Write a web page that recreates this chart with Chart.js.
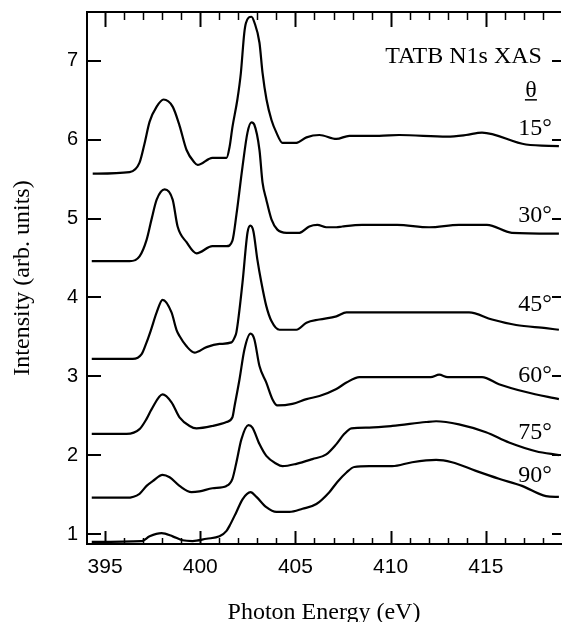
<!DOCTYPE html>
<html><head><meta charset="utf-8">
<script src="https://cdn.jsdelivr.net/npm/chart.js@4.4.1/dist/chart.umd.min.js"></script>
<style>html,body{margin:0;padding:0;background:#fff;}canvas{display:block;}</style>
</head><body>
<canvas id="c" width="563" height="622"></canvas>
<script>
// ---- data ----
const xTicks = [395, 400, 405, 410, 415];
const yTicks = [1, 2, 3, 4, 5, 6, 7];
const angleLabels = ['15°', '30°', '45°', '60°', '75°', '90°'];

const e15 = [394.35,396.29,396.81,397.08,397.34,397.71,398.07,398.55,398.91,399.28,399.70,399.86,400.64,401.38,401.54,401.69,401.95,402.13,402.31,402.40,402.69,402.84,403.11,403.27,403.48,403.74,404.00,404.32,405.05,405.58,406.26,407.15,407.83,409.40,410.45,412.97,413.96,414.80,417.11,418.84];
const i15 = [5.57,5.59,5.71,5.96,6.23,6.42,6.51,6.42,6.18,5.87,5.71,5.68,5.77,5.77,5.91,6.16,6.51,6.84,7.35,7.48,7.56,7.49,7.23,6.85,6.51,6.25,6.09,5.96,5.96,6.03,6.06,6.01,6.05,6.05,6.06,6.04,6.06,6.09,5.94,5.92];

const e30 = [394.30,396.29,396.81,397.18,397.44,397.71,398.13,398.55,398.81,399.28,399.80,400.64,401.38,401.69,401.90,402.22,402.48,402.69,402.84,403.11,403.27,403.47,403.74,404.05,404.53,405.21,405.73,406.15,406.62,407.15,407.46,408.51,410.34,412.02,413.59,415.06,416.37,418.84];
const i30 = [4.46,4.46,4.52,4.73,4.99,5.24,5.37,5.24,4.90,4.70,4.56,4.65,4.65,4.72,5.05,5.66,6.09,6.22,6.19,5.87,5.46,5.24,4.99,4.86,4.82,4.82,4.90,4.92,4.89,4.89,4.90,4.92,4.92,4.89,4.92,4.92,4.82,4.81];

const e45 = [394.30,396.45,396.92,397.18,397.40,397.71,398.02,398.49,398.75,398.91,399.28,399.70,400.33,401.01,401.64,401.80,401.90,402.22,402.48,402.63,402.79,403.00,403.21,403.47,403.74,404.16,405.05,405.58,406.26,407.15,407.68,408.20,410.45,414.12,415.33,416.59,418.16,418.84];
const i45 = [3.22,3.22,3.28,3.43,3.58,3.81,3.97,3.81,3.59,3.51,3.38,3.30,3.37,3.41,3.43,3.49,3.56,4.19,4.82,4.91,4.84,4.48,4.19,3.89,3.70,3.59,3.59,3.68,3.72,3.76,3.81,3.81,3.81,3.81,3.72,3.65,3.61,3.59];

const e60 = [394.30,396.13,396.81,397.18,397.44,398.02,398.49,398.91,399.44,399.80,400.64,401.38,401.69,401.80,402.06,402.32,402.64,402.84,403.11,403.47,403.79,404.05,404.84,405.58,406.26,407.15,407.68,408.36,410.45,412.10,412.55,413.00,414.80,415.69,417.11,418.84];
const i60 = [2.27,2.27,2.33,2.46,2.58,2.77,2.67,2.48,2.37,2.34,2.37,2.42,2.48,2.62,2.96,3.34,3.54,3.47,3.13,2.92,2.71,2.63,2.65,2.71,2.75,2.84,2.92,2.99,2.99,2.99,3.02,2.99,2.99,2.90,2.80,2.71];

const e75 = [394.30,396.13,396.81,397.18,397.50,398.02,398.39,398.91,399.54,399.96,400.64,401.38,401.69,401.90,402.16,402.53,402.74,403.11,403.47,404.00,404.32,405.05,405.89,406.62,407.15,407.57,407.94,408.88,410.08,411.86,412.39,413.59,415.01,416.22,417.63,418.84];
const i75 = [1.46,1.46,1.51,1.61,1.67,1.75,1.72,1.61,1.53,1.54,1.58,1.61,1.70,1.91,2.20,2.38,2.35,2.14,1.99,1.89,1.86,1.89,1.95,2.01,2.14,2.27,2.34,2.35,2.37,2.42,2.43,2.39,2.29,2.16,2.05,2.00];

const e90 = [394.30,396.92,397.34,397.97,398.55,399.07,399.60,400.33,401.01,401.38,401.53,401.90,402.22,402.64,402.95,403.47,404.00,404.68,405.37,406.10,406.78,407.20,407.68,408.09,408.88,410.08,411.13,412.39,413.22,414.48,415.69,416.90,418.16,418.84];
const i90 = [0.90,0.91,0.97,1.01,0.97,0.92,0.91,0.94,0.97,1.04,1.10,1.28,1.44,1.53,1.47,1.34,1.28,1.28,1.32,1.38,1.53,1.66,1.78,1.85,1.86,1.86,1.91,1.94,1.91,1.80,1.70,1.61,1.48,1.47];

const energies = [e15, e30, e45, e60, e75, e90];
const intensities = [i15, i30, i45, i60, i75, i90];

// ---- chart ----
const SERIF = '"Liberation Serif", "Times New Roman", serif';
const SANS = '"Liberation Sans", Arial, sans-serif';

const datasets = energies.map((e, k) => ({
  label: angleLabels[k],
  data: e.map((x, i) => ({x: x, y: intensities[k][i]})),
  borderColor: '#000',
  borderWidth: 2.2,
  pointRadius: 0,
  fill: false,
  cubicInterpolationMode: 'monotone',
  tension: 0.3
}));

const frame = {
  id: 'frame',
  afterDraw(chart, args, opts) {
    const {ctx, chartArea: {left, right, top, bottom}, scales: {x, y}} = chart;
    ctx.save();
    ctx.strokeStyle = '#000';
    ctx.lineCap = 'butt';
    const line = (x1, y1, x2, y2) => { ctx.beginPath(); ctx.moveTo(x1, y1); ctx.lineTo(x2, y2); ctx.stroke(); };
    // top frame line
    ctx.lineWidth = 2;
    line(left - 1, top, right, top);
    // x ticks (inward, top & bottom)
    for (let v = Math.ceil(x.min); v <= Math.floor(x.max); v++) {
      const px = Math.round(x.getPixelForValue(v)) + 0.5;
      const major = xTicks.includes(v);
      ctx.lineWidth = major ? 2 : 1.5;
      line(px, bottom, px, bottom - (major ? 13 : 6));
      line(px, top, px, top + (major ? 15 : 8));
    }
    // y ticks (inward, left; short marks on right)
    ctx.lineWidth = 2;
    yTicks.forEach(v => {
      const py = Math.round(y.getPixelForValue(v));
      line(left, py, left + 14, py);
      line(right - 9, py, right, py);
    });
    // annotations
    ctx.fillStyle = '#000';
    ctx.font = '24px ' + SERIF;
    ctx.textBaseline = 'alphabetic';
    ctx.textAlign = 'right';
    ctx.fillText(opts.title, x.getPixelForValue(opts.titleX), y.getPixelForValue(opts.titleY));
    ctx.textAlign = 'center';
    const tx = x.getPixelForValue(opts.thetaX), ty = y.getPixelForValue(opts.thetaY);
    ctx.fillText('θ', tx, ty);
    ctx.lineWidth = 1.5;
    line(tx - 6, ty + 3, tx + 6, ty + 3);
    ctx.textAlign = 'right';
    angleLabels.forEach((t, k) => {
      ctx.fillText(t, x.getPixelForValue(opts.angleX), y.getPixelForValue(opts.angleY[k]));
    });
    ctx.restore();
  }
};

const noPad = s => { s.paddingTop = 0; s.paddingBottom = 0; s.paddingLeft = 0; s.paddingRight = 0; };

new Chart(document.getElementById('c'), {
  type: 'line',
  data: {datasets},
  plugins: [frame],
  options: {
    responsive: false,
    animation: false,
    devicePixelRatio: 1,
    layout: {padding: {top: 12, right: 2, left: 0, bottom: 0}},
    plugins: {
      legend: {display: false},
      tooltip: {enabled: false},
      frame: {
        title: 'TATB N1s XAS', titleX: 417.95, titleY: 6.975,
        thetaX: 417.37, thetaY: 6.544,
        angleX: 418.47,
        angleY: [6.063, 4.962, 3.823, 2.924, 2.203, 1.658]
      }
    },
    scales: {
      x: {
        type: 'linear',
        min: 394.05, max: 418.95,
        afterFit: s => { s.height = 78; noPad(s); },
        afterBuildTicks: s => { s.ticks = xTicks.map(v => ({value: v})); },
        grid: {display: false, drawTicks: false},
        border: {display: true, color: '#000', width: 2},
        ticks: {color: '#000', font: {family: SANS, size: 21}, padding: 11, maxRotation: 0,
                callback: v => String(v)},
        title: {display: true, text: 'Photon Energy (eV)', color: '#000',
                font: {family: SERIF, size: 24, lineHeight: 1}, padding: {top: 0, bottom: -3}}
      },
      y: {
        type: 'linear',
        min: 0.873, max: 7.62,
        afterFit: s => { s.width = 87; noPad(s); },
        afterBuildTicks: s => { s.ticks = yTicks.map(v => ({value: v})); },
        grid: {display: false, drawTicks: false},
        border: {display: true, color: '#000', width: 2},
        ticks: {color: '#000', font: {family: SANS, size: 20}, padding: 9,
                callback: v => String(v)},
        title: {display: true, text: 'Intensity (arb. units)', color: '#000',
                font: {family: SERIF, size: 24, lineHeight: 1}, padding: {top: 11, bottom: 0}}
      }
    }
  }
});
</script>
</body></html>
